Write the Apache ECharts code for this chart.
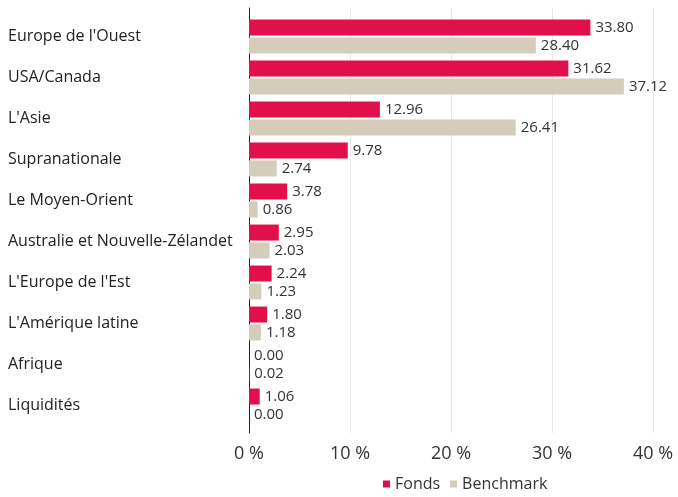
<!DOCTYPE html>
<html>
<head>
<meta charset="utf-8">
<script src="https://cdn.jsdelivr.net/npm/echarts@6/dist/echarts.min.js"></script>
<style>
  html, body {margin: 0; padding: 0; background: #fff;}
  #chart {width: 678px; height: 497px;}
</style>
</head>
<body>
<div id="chart"></div>
<script>
const regions = ['Europe de l\'Ouest', 'USA/Canada', 'L\'Asie', 'Supranationale', 'Le Moyen-Orient',
  'Australie et Nouvelle-Zélandet', 'L\'Europe de l\'Est', 'L\'Amérique latine', 'Afrique', 'Liquidités'];
const fonds = [33.80, 31.62, 12.96, 9.78, 3.78, 2.95, 2.24, 1.80, 0.00, 1.06];
const benchmark = [28.40, 37.12, 26.41, 2.74, 0.86, 2.03, 1.23, 1.18, 0.02, 0.00];
const xTicks = [0, 10, 20, 30, 40];

const font = 'Open Sans';
const fondsColor = '#E2104A';
const benchColor = '#D5CCBA';

const chart = echarts.init(document.getElementById('chart'));
const barLabel = {
  show: true,
  position: 'right',
  distance: 5,
  color: '#333',
  fontFamily: font,
  fontSize: 15,
  formatter: p => p.value.toFixed(2)
};

chart.setOption({
  animation: false,
  textStyle: {fontFamily: font},
  grid: [
    // bars
    {left: 249, right: 25, top: 16, height: 410},
    // frame: axis line, grid lines and tick labels
    {left: 249, right: 25, top: 8, bottom: 64}
  ],
  legend: {
    bottom: 0,
    left: 378,
    itemWidth: 7,
    itemHeight: 7,
    itemGap: 10,
    icon: 'rect',
    textStyle: {fontFamily: font, fontSize: 16, color: '#333'},
    data: ['Fonds', 'Benchmark']
  },
  xAxis: [
    {gridIndex: 0, type: 'value', min: xTicks[0], max: xTicks[xTicks.length - 1], show: false},
    {
      gridIndex: 1, type: 'value', min: xTicks[0], max: xTicks[xTicks.length - 1], interval: 10,
      axisLine: {show: false},
      axisTick: {show: false},
      splitLine: {show: true, lineStyle: {color: '#e8e8e8', width: 1}},
      axisLabel: {
        margin: 12, color: '#333', fontSize: 18, fontFamily: font,
        formatter: v => v + ' %'
      }
    }
  ],
  yAxis: [
    {
      gridIndex: 0, type: 'category', data: regions, inverse: true,
      axisLine: {show: false},
      axisTick: {show: false},
      axisLabel: {align: 'left', margin: 241, color: '#222', fontSize: 16, fontFamily: font}
    },
    {
      gridIndex: 1, type: 'value', min: 0, max: 1,
      axisLine: {show: true, onZero: false, lineStyle: {color: '#222', width: 1}},
      axisTick: {show: false},
      axisLabel: {show: false},
      splitLine: {show: false}
    }
  ],
  series: [
    {
      name: 'Fonds', type: 'bar', xAxisIndex: 0, yAxisIndex: 0, data: fonds,
      itemStyle: {color: fondsColor},
      barWidth: 16, barGap: '12%',
      label: barLabel
    },
    {
      name: 'Benchmark', type: 'bar', xAxisIndex: 0, yAxisIndex: 0, data: benchmark,
      itemStyle: {color: benchColor},
      barWidth: 16,
      label: barLabel
    }
  ]
});
</script>
</body>
</html>
